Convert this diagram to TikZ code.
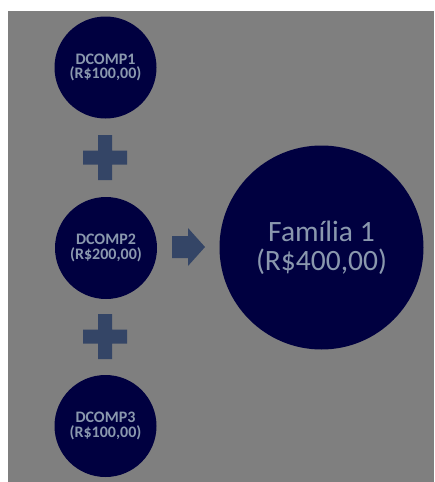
\documentclass[tikz,border=0pt]{standalone}
\usepackage{fontspec}
\setmainfont{Carlito}
\definecolor{bggray}{HTML}{7F7F7F}
\definecolor{navy}{HTML}{000040}
\definecolor{symb}{HTML}{344566}
\definecolor{txt}{HTML}{8A98AE}
\begin{document}
\begin{tikzpicture}[x=1pt,y=-1pt,
  small/.style={circle,fill=navy,minimum size=102pt,inner sep=0pt,text=txt,
    font=\fontsize{16}{14.5}\selectfont\bfseries,align=center},
  big/.style={circle,fill=navy,minimum size=204pt,inner sep=0pt,text=txt,
    font=\fontsize{29.5}{29}\selectfont,align=center},
  symbfill/.style={fill=symb,draw=none}]
\useasboundingbox (0,0) rectangle (434,482);
\fill[white] (0,0) rectangle (434,482);
\fill[bggray] (8,11) rectangle (434,482);
\node[small] (d1) at (105.5,67.5) {DCOMP1\\(R\$100,00)};
\node[small] (d2) at (106,248) {DCOMP2\\(R\$200,00)};
\node[small] (d3) at (105.5,426) {DCOMP3\\(R\$100,00)};
\node[big] (f1) at (321.5,247.5) {Família 1\\(R\$400,00)};
% plus signs
\foreach \cy in {157.5,336.5}{
  \fill[symbfill] (98,\cy-22.5) -- (112,\cy-22.5) -- (112,\cy-7) -- (127,\cy-7)
    -- (127,\cy+7) -- (112,\cy+7) -- (112,\cy+22.5) -- (98,\cy+22.5)
    -- (98,\cy+7) -- (83,\cy+7) -- (83,\cy-7) -- (98,\cy-7) -- cycle;
}
% arrow
\fill[symbfill] (172,236) -- (188,236) -- (188,228) -- (205,247) -- (188,266)
  -- (188,258) -- (172,258) -- cycle;
\end{tikzpicture}
\end{document}
